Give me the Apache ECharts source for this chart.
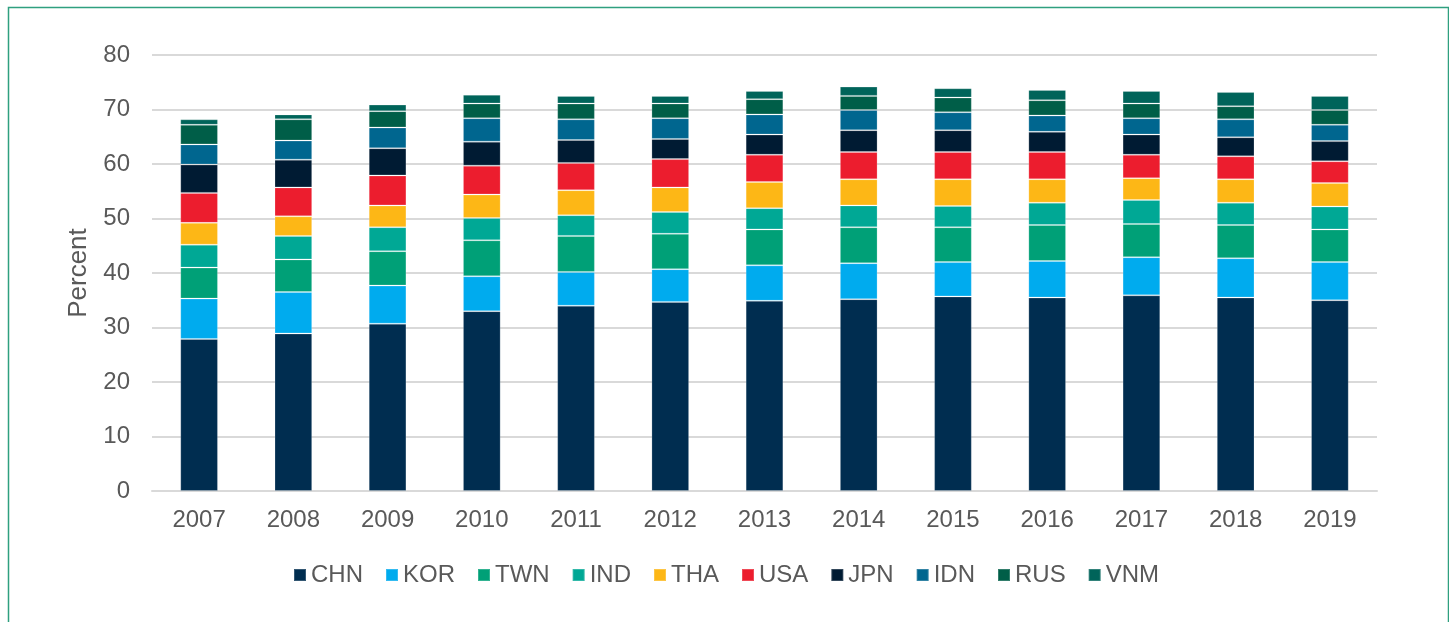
<!DOCTYPE html>
<html>
<head>
<meta charset="utf-8">
<script src="https://cdn.jsdelivr.net/npm/echarts@6/dist/echarts.min.js"></script>
<style>
  html, body { margin: 0; padding: 0; background: #fff; }
  #chart { width: 1449px; height: 622px; }
</style>
</head>
<body>
<div id="chart"></div>
<script>
// years on the x axis
const years = ['2007', '2008', '2009', '2010', '2011', '2012', '2013', '2014', '2015', '2016', '2017', '2018', '2019'];

// share by country, percent
const CHN = [27.9, 28.9, 30.7, 33.0, 34.0, 34.7, 34.9, 35.2, 35.7, 35.5, 35.9, 35.5, 35.0];
const KOR = [7.4, 7.6, 7.0, 6.4, 6.2, 6.0, 6.5, 6.6, 6.3, 6.7, 7.0, 7.2, 7.0];
const TWN = [5.7, 6.0, 6.3, 6.6, 6.6, 6.5, 6.6, 6.6, 6.4, 6.6, 6.1, 6.1, 6.0];
const IND = [4.2, 4.3, 4.4, 4.1, 3.8, 4.0, 3.9, 4.0, 3.9, 4.1, 4.4, 4.1, 4.2];
const THA = [4.0, 3.6, 4.0, 4.3, 4.6, 4.5, 4.8, 4.8, 4.9, 4.3, 4.0, 4.3, 4.3];
const USA = [5.5, 5.3, 5.5, 5.3, 5.0, 5.2, 5.0, 5.0, 5.0, 5.0, 4.3, 4.2, 4.0];
const JPN = [5.2, 5.1, 5.0, 4.4, 4.2, 3.7, 3.7, 4.0, 4.0, 3.7, 3.7, 3.5, 3.7];
const IDN = [3.7, 3.5, 3.8, 4.3, 3.8, 3.8, 3.7, 3.7, 3.3, 3.0, 3.0, 3.3, 3.0];
const RUS = [3.6, 3.9, 3.0, 2.7, 2.9, 2.7, 2.8, 2.6, 2.7, 2.8, 2.7, 2.4, 2.7];
const VNM = [1.0, 0.9, 1.2, 1.6, 1.4, 1.4, 1.5, 1.7, 1.7, 1.9, 2.3, 2.6, 2.6];

const yTicks = [0, 10, 20, 30, 40, 50, 60, 70, 80];

const seriesList = [
  { name: 'CHN', data: CHN, color: '#002D50' },
  { name: 'KOR', data: KOR, color: '#00ABEE' },
  { name: 'TWN', data: TWN, color: '#00A077' },
  { name: 'IND', data: IND, color: '#00A895' },
  { name: 'THA', data: THA, color: '#FDB716' },
  { name: 'USA', data: USA, color: '#EC1D2E' },
  { name: 'JPN', data: JPN, color: '#001B33' },
  { name: 'IDN', data: IDN, color: '#00668F' },
  { name: 'RUS', data: RUS, color: '#005E48' },
  { name: 'VNM', data: VNM, color: '#00645A' }
];

const font = '"Liberation Sans", Arial, sans-serif';
const textColor = '#595959';

const chart = echarts.init(document.getElementById('chart'));

chart.setOption({
  animation: false,
  color: seriesList.map(s => s.color),
  textStyle: { fontFamily: font },
  graphic: [{
    type: 'rect',
    left: 6,
    top: 5,
    shape: { width: 1440, height: 650 },
    style: { fill: 'none', stroke: '#2fa07f', lineWidth: 1.5 },
    silent: true
  }],
  grid: { left: 152, right: 72, top: 55, bottom: 131 },
  legend: {
    data: seriesList.map(s => s.name),
    left: 293,
    top: 563,
    padding: 0,
    itemWidth: 12,
    itemHeight: 12,
    itemGap: 22,
    icon: 'rect',
    textStyle: { fontSize: 24, color: textColor, fontFamily: font }
  },
  xAxis: {
    type: 'category',
    data: years,
    axisLine: { lineStyle: { color: '#d9d9d9', width: 2 } },
    axisTick: { show: false },
    axisLabel: { fontSize: 24, color: textColor, margin: 17, fontFamily: font }
  },
  yAxis: {
    type: 'value',
    min: yTicks[0],
    max: yTicks[yTicks.length - 1],
    interval: 10,
    name: 'Percent',
    nameLocation: 'middle',
    nameGap: 60,
    nameTextStyle: { fontSize: 26, color: textColor, fontFamily: font },
    axisLine: { show: false },
    axisTick: { show: false },
    axisLabel: { fontSize: 24, color: textColor, margin: 22, fontFamily: font },
    splitLine: { lineStyle: { color: '#d9d9d9', width: 2 } }
  },
  series: seriesList.map(s => ({
    name: s.name,
    type: 'bar',
    stack: 'total',
    barWidth: '40%',
    data: s.data,
    itemStyle: { color: s.color, borderColor: 'rgba(255,255,255,0.2)', borderWidth: 1 }
  }))
});
</script>
</body>
</html>
